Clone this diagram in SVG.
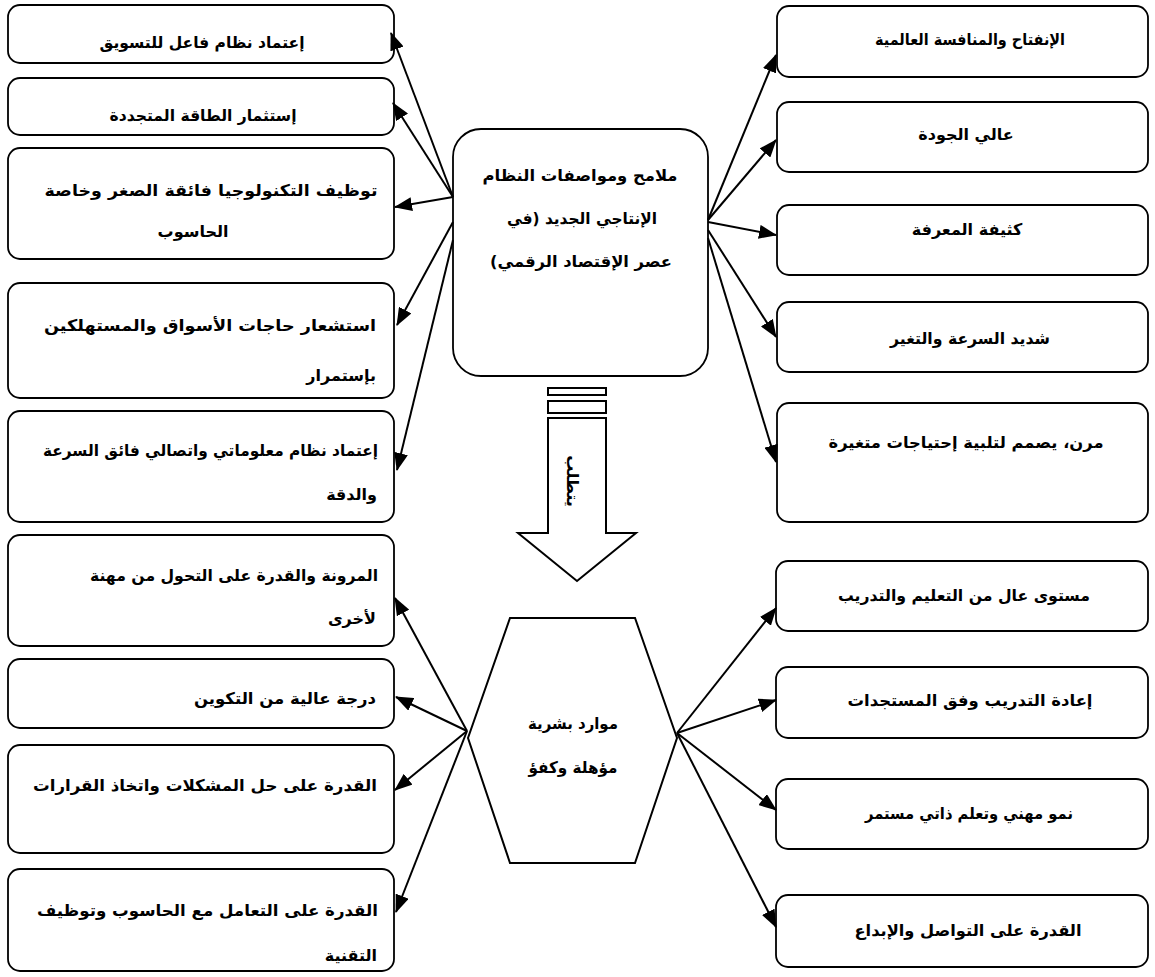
<svg xmlns="http://www.w3.org/2000/svg" width="1155" height="977" viewBox="0 0 1155 977">
<style>
.box{fill:#fff;stroke:#000;stroke-width:1.8}
.shape{fill:#fff;stroke:#000;stroke-width:2}
.t{font-family:"DejaVu Sans",sans-serif;font-weight:bold;font-size:16px;fill:#000;direction:rtl}
.m{text-anchor:middle}
.s{text-anchor:start}
.c line{stroke:#000;stroke-width:2;marker-end:url(#ah)}
</style>
<defs>
<marker id="ah" markerUnits="userSpaceOnUse" markerWidth="18" markerHeight="14" refX="17" refY="7" orient="auto">
<path d="M0,0 L18,7 L0,14 z" fill="#000"/>
</marker>
</defs>
<rect width="1155" height="977" fill="#fff"/>

<g id="center">
<rect class="box" x="453" y="129" width="255" height="247" rx="28"/>
<text class="t m" x="580" y="181" direction="rtl" textLength="195" lengthAdjust="spacingAndGlyphs">ملامح ومواصفات النظام</text>
<text class="t m" x="582" y="224" direction="rtl" textLength="150" lengthAdjust="spacingAndGlyphs">الإنتاجي الجديد (في</text>
<text class="t m" x="581" y="267" direction="rtl" textLength="182" lengthAdjust="spacingAndGlyphs">عصر الإقتصاد الرقمي)</text>
</g>

<g id="requires">
<rect class="shape" x="548" y="388" width="58" height="7"/>
<rect class="shape" x="548" y="401" width="58" height="12"/>
<polygon class="shape" points="548,418 606,418 606,533 636,533 577,581 518,533 548,533"/>
<text class="t m" transform="translate(572,481) rotate(90)" x="0" y="5" direction="rtl">يتطلب</text>
</g>

<g id="hr">
<polygon class="shape" points="510,618 635,618 677,738 635,863 510,863 468,738"/>
<text class="t m" x="573" y="729" direction="rtl" textLength="90" lengthAdjust="spacingAndGlyphs">موارد بشرية</text>
<text class="t m" x="573" y="773" direction="rtl" textLength="89" lengthAdjust="spacingAndGlyphs">مؤهلة وكفؤ</text>
</g>

<g id="L1"><rect class="box" x="8" y="5" width="386" height="58" rx="12"/>
<text class="t m" x="202" y="48" direction="rtl" textLength="205" lengthAdjust="spacingAndGlyphs">إعتماد نظام فاعل للتسويق</text></g>
<g id="L2"><rect class="box" x="8" y="78" width="386" height="57" rx="12"/>
<text class="t m" x="203" y="121" direction="rtl" textLength="187" lengthAdjust="spacingAndGlyphs">إستثمار  الطاقة المتجددة</text></g>
<g id="L3"><rect class="box" x="8" y="148" width="386" height="111" rx="12"/>
<text class="t m" x="211" y="196" direction="rtl" textLength="333" lengthAdjust="spacingAndGlyphs">توظيف التكنولوجيا فائقة الصغر وخاصة</text>
<text class="t m" x="193" y="237" direction="rtl">الحاسوب</text></g>
<g id="L4"><rect class="box" x="8" y="283" width="386" height="115" rx="12"/>
<text class="t s" x="376" y="331" direction="rtl" textLength="332" lengthAdjust="spacingAndGlyphs">استشعار حاجات الأسواق والمستهلكين</text>
<text class="t s" x="376" y="381" direction="rtl">بإستمرار</text></g>
<g id="L5"><rect class="box" x="8" y="411" width="386" height="111" rx="12"/>
<text class="t s" x="378" y="456" direction="rtl" textLength="335" lengthAdjust="spacingAndGlyphs">إعتماد نظام معلوماتي واتصالي فائق السرعة</text>
<text class="t s" x="377" y="500" direction="rtl">والدقة</text></g>
<g id="L6"><rect class="box" x="8" y="535" width="386" height="111" rx="12"/>
<text class="t s" x="378" y="581" direction="rtl" textLength="288" lengthAdjust="spacingAndGlyphs">المرونة والقدرة على التحول من مهنة</text>
<text class="t s" x="376" y="624" direction="rtl">لأخرى</text></g>
<g id="L7"><rect class="box" x="8" y="659" width="386" height="69" rx="12"/>
<text class="t s" x="376" y="704" direction="rtl" textLength="182" lengthAdjust="spacingAndGlyphs">درجة عالية من التكوين</text></g>
<g id="L8"><rect class="box" x="8" y="745" width="386" height="108" rx="12"/>
<text class="t s" x="377" y="791" direction="rtl" textLength="344" lengthAdjust="spacingAndGlyphs">القدرة على حل المشكلات واتخاذ القرارات</text></g>
<g id="L9"><rect class="box" x="8" y="869" width="386" height="102" rx="12"/>
<text class="t s" x="378" y="916" direction="rtl" textLength="341" lengthAdjust="spacingAndGlyphs">القدرة على التعامل مع الحاسوب وتوظيف</text>
<text class="t s" x="377" y="961" direction="rtl">التقنية</text></g>

<g id="R1"><rect class="box" x="777" y="6" width="371" height="71" rx="12"/>
<text class="t m" x="970" y="45" direction="rtl" textLength="190" lengthAdjust="spacingAndGlyphs">الإنفتاح والمنافسة العالمية</text></g>
<g id="R2"><rect class="box" x="777" y="102" width="371" height="70" rx="12"/>
<text class="t m" x="966" y="140" direction="rtl">عالي الجودة</text></g>
<g id="R3"><rect class="box" x="777" y="205" width="371" height="70" rx="12"/>
<text class="t m" x="967" y="235" direction="rtl">كثيفة المعرفة</text></g>
<g id="R4"><rect class="box" x="777" y="302" width="371" height="70" rx="12"/>
<text class="t m" x="970" y="344" direction="rtl" textLength="160" lengthAdjust="spacingAndGlyphs">شديد السرعة والتغير</text></g>
<g id="R5"><rect class="box" x="777" y="403" width="371" height="119" rx="12"/>
<text class="t m" x="966" y="448" direction="rtl" textLength="275" lengthAdjust="spacingAndGlyphs">مرن، يصمم لتلبية إحتياجات متغيرة</text></g>
<g id="R6"><rect class="box" x="776" y="561" width="372" height="70" rx="12"/>
<text class="t m" x="964" y="601" direction="rtl" textLength="252" lengthAdjust="spacingAndGlyphs">مستوى عال من التعليم والتدريب</text></g>
<g id="R7"><rect class="box" x="776" y="667" width="372" height="71" rx="12"/>
<text class="t m" x="970" y="706" direction="rtl" textLength="245" lengthAdjust="spacingAndGlyphs">إعادة التدريب وفق المستجدات</text></g>
<g id="R8"><rect class="box" x="776" y="779" width="372" height="70" rx="12"/>
<text class="t m" x="969" y="819" direction="rtl" textLength="208" lengthAdjust="spacingAndGlyphs">نمو مهني وتعلم ذاتي مستمر</text></g>
<g id="R9"><rect class="box" x="776" y="895" width="372" height="72" rx="12"/>
<text class="t m" x="968" y="936" direction="rtl" textLength="227" lengthAdjust="spacingAndGlyphs">القدرة على التواصل والإبداع</text></g>

<g id="connectors" class="c">
<line x1="453" y1="197" x2="391" y2="33"/>
<line x1="453" y1="197" x2="393" y2="103"/>
<line x1="453" y1="197" x2="395" y2="207"/>
<line x1="453" y1="222" x2="397" y2="325"/>
<line x1="453" y1="240" x2="397" y2="470"/>
<line x1="708" y1="220" x2="776" y2="55"/>
<line x1="708" y1="220" x2="776" y2="140"/>
<line x1="708" y1="222" x2="776" y2="235"/>
<line x1="708" y1="230" x2="776" y2="337"/>
<line x1="708" y1="238" x2="776" y2="462"/>
<line x1="467" y1="731" x2="395" y2="598"/>
<line x1="467" y1="731" x2="396" y2="697"/>
<line x1="467" y1="731" x2="395" y2="790"/>
<line x1="467" y1="731" x2="396" y2="912"/>
<line x1="677" y1="733" x2="776" y2="608"/>
<line x1="677" y1="733" x2="776" y2="700"/>
<line x1="677" y1="733" x2="776" y2="810"/>
<line x1="677" y1="733" x2="776" y2="927"/>
</g>
</svg>
